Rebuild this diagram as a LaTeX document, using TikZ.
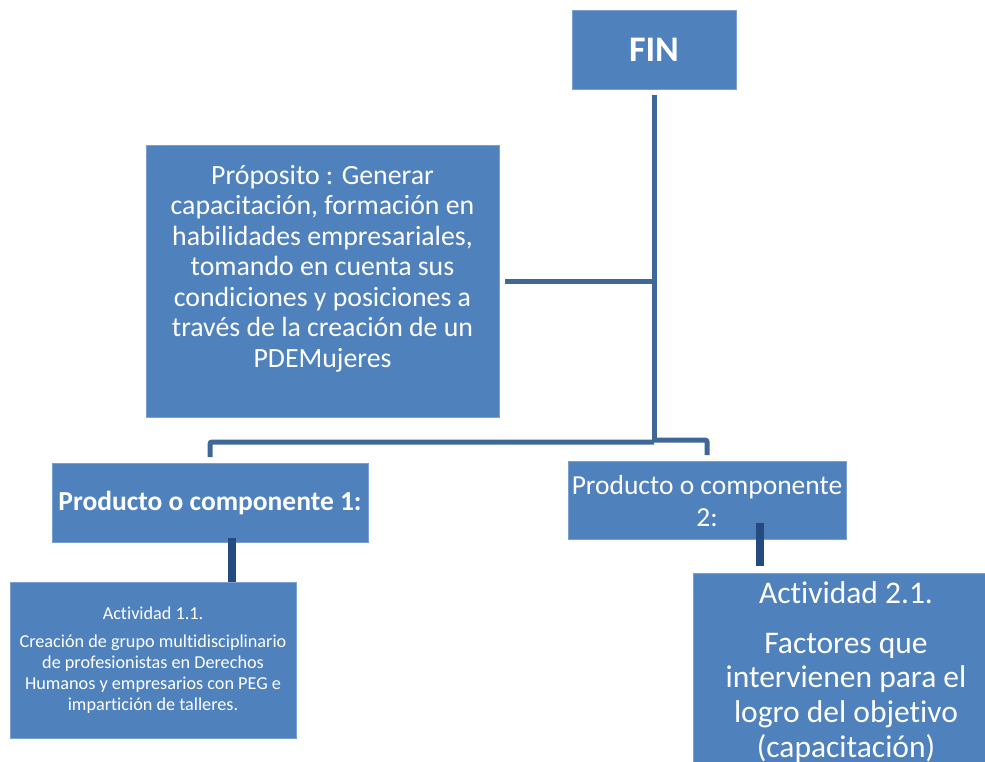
\documentclass[tikz,border=0pt]{standalone}
\usepackage{fontspec}
\setmainfont{Carlito}[Ligatures=NoCommon]
\definecolor{boxblue}{HTML}{4F81BD}
\definecolor{boxedge}{HTML}{7BA0D0}
\definecolor{connA}{HTML}{3E6897}
\definecolor{connB}{HTML}{234B7F}
\tikzset{
  box/.style={rectangle, fill=boxblue, draw=boxedge, line width=0.8pt, inner sep=0pt, outer sep=0pt},
  txt/.style={text=white, align=center, inner sep=0pt},
  conn/.style={draw=connA, line width=5pt},
  connthick/.style={draw=connB, line width=8pt},
}
\begin{document}
\begin{tikzpicture}[x=1pt,y=-1pt]
\useasboundingbox (0,0) rectangle (985,762);
\clip (0,0) rectangle (985,762);
% boxes
\node[box, minimum width=164pt, minimum height=79pt] (fin) at (654,49.5) {};
\node[box, minimum width=353pt, minimum height=272pt] (prop) at (322.5,281) {};
\node[box, minimum width=316pt, minimum height=79pt] (p1) at (210,502.5) {};
\node[box, minimum width=278pt, minimum height=78pt] (p2) at (707,500) {};
\node[box, minimum width=286pt, minimum height=156pt] (a1) at (153,660) {};
\node[box, minimum width=306pt, minimum height=220pt] (a2) at (846,683) {};
% texts
\node[txt, font=\fontsize{36}{40}\selectfont\bfseries] (tfin) at (fin.center) {FIN};
\node[txt, font=\fontsize{27.8}{30.5}\selectfont] (tprop) at (322.5,268.5) {Próposito : Generar\\capacitación, formación en\\habilidades empresariales,\\tomando en cuenta sus\\condiciones y posiciones a\\través de la creación de un\\PDEMujeres};
\node[txt, font=\fontsize{27.5}{31}\selectfont\bfseries] (tp1) at (210,503) {Producto o componente 1:};
\node[txt, font=\fontsize{27.5}{32}\selectfont] (tp2) at (707,501) {Producto o componente\\2:};
\node[txt, font=\fontsize{18.2}{21}\selectfont] (ta1) at (153,660.5) {Actividad 1.1.\\[7pt]Creación de grupo multidisciplinario\\de profesionistas en Derechos\\Humanos y empresarios con PEG e\\impartición de talleres.};
\node[txt, font=\fontsize{31.5}{34.8}\selectfont] (ta2) at (846,672) {Actividad 2.1.\\[15pt]Factores que\\intervienen para el\\logro del objetivo\\(capacitación)};
% connector junctions
\coordinate (hub) at (654,442);
\coordinate (hubr) at (654,440);
\coordinate (propend) at (505,281);
\coordinate (l1) at (210,457);
\coordinate (r1) at (707,455);
% connectors
\draw[conn] ([yshift=-6pt]fin.south) -- (hub);
\draw[conn] (propend) -- (propend -| hub);
\draw[conn, rounded corners=2pt] (hub) -- (hub -| l1) -- (l1);
\draw[conn, rounded corners=2pt] (hubr) -- (hubr -| r1) -- (r1);
\draw[connthick] ([yshift=4pt]p1.south -| 232,0) -- (a1.north -| 232,0);
\draw[connthick] ([yshift=16pt]p2.south -| 760,0) -- ([yshift=7pt]a2.north -| 760,0);
\end{tikzpicture}
\end{document}
